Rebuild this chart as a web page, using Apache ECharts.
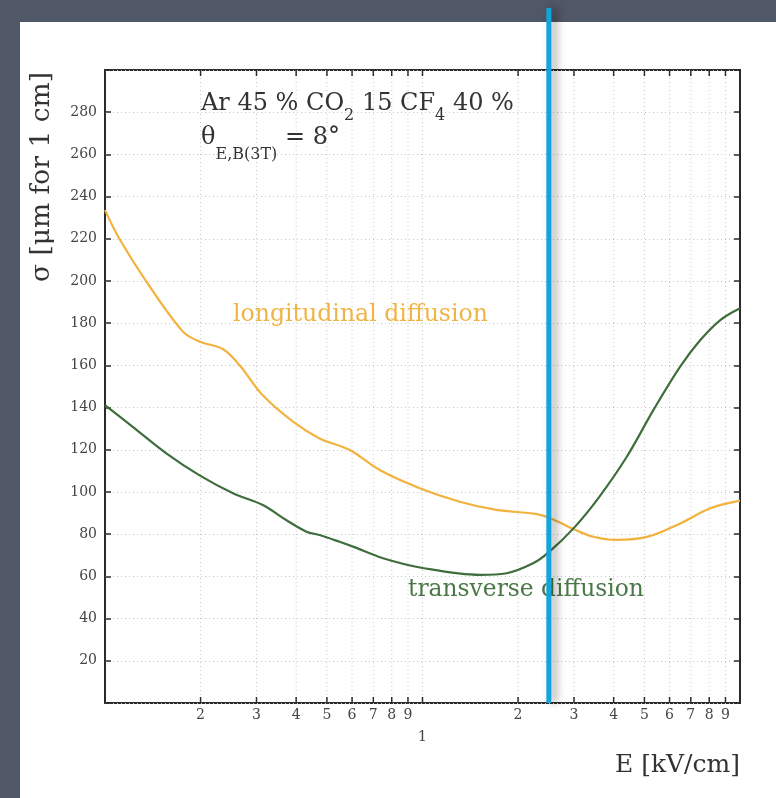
<!DOCTYPE html>
<html>
<head>
<meta charset="utf-8">
<script src="https://cdn.jsdelivr.net/npm/echarts@6/dist/echarts.min.js"></script>
<style>
  html, body { margin: 0; padding: 0; background: #505766; }
  #panel { position: absolute; left: 20px; top: 22px; right: 0; bottom: 0; background: #ffffff; }
  #chart { position: absolute; left: 0; top: 0; width: 776px; height: 798px; }
</style>
</head>
<body>
<div id="panel"></div>
<div id="chart"></div>
<script>
// Drift field E [kV/cm] and longitudinal diffusion sigma [um for 1 cm]
const E_long = [0.1, 0.111, 0.135, 0.176, 0.199, 0.235, 0.265, 0.314, 0.391, 0.474, 0.59, 0.733, 0.98, 1.31, 1.71, 2.29, 2.58, 3.0, 3.45, 4.09, 5.2, 6.5, 8.06, 10];
const sigma_long = [233.6, 220, 199.7, 176, 171.2, 167.8, 160.2, 145.8, 133.3, 125.4, 119.9, 110.4, 101.8, 95.4, 91.5, 89.5, 87, 82.3, 78.8, 77.3, 79.1, 85.2, 92.3, 95.9];

// Drift field E [kV/cm] and transverse diffusion sigma [um for 1 cm]
const E_trans = [0.1, 0.122, 0.156, 0.198, 0.253, 0.314, 0.372, 0.431, 0.474, 0.548, 0.604, 0.751, 1.0, 1.517, 1.84, 2.23, 2.5, 3.0, 3.6, 4.4, 5.34, 6.48, 7.5, 8.67, 10];
const sigma_trans = [141.2, 131, 118.3, 108, 99.4, 93.8, 86.7, 81.2, 79.6, 76.4, 74.1, 68.6, 64, 60.7, 61.5, 66.2, 71.5, 83, 97.6, 116.7, 138.9, 159.4, 172, 181.5, 187.1];

// Log-axis ticks and their labels
const xTickValues = [0.2, 0.3, 0.4, 0.5, 0.6, 0.7, 0.8, 0.9, 1, 2, 3, 4, 5, 6, 7, 8, 9];
const xTickLabels = ['2', '3', '4', '5', '6', '7', '8', '9', '1', '2', '3', '4', '5', '6', '7', '8', '9'];
const xMin = 0.1, xMax = 10;
const yMin = 0, yMax = 300, yStep = 20;

// Field value marked by the vertical cursor
const fieldMarker = [2.5];

const serif = '"DejaVu Serif", "Liberation Serif", serif';
const ink = '#333333';
const frame = '#2a2a2a';
const gridColor = '#c8c8c8';
const orange = '#f3b23e';
const green = '#3f6e3d';

const pairs = (xs, ys) => xs.map((x, i) => [x, ys[i]]);

const chart = echarts.init(document.getElementById('chart'), null, { renderer: 'canvas' });

const option = {
  backgroundColor: 'transparent',
  animation: false,
  grid: {
    left: 105, right: 36, top: 70, bottom: 95,
    show: true, borderColor: frame, borderWidth: 2, backgroundColor: 'transparent'
  },
  xAxis: {
    type: 'log', logBase: 10, min: xMin, max: xMax,
    axisLine: { show: false }, axisTick: { show: false },
    axisLabel: { show: false }, splitLine: { show: false }
  },
  yAxis: [
    {
      type: 'value', min: yMin, max: yMax, interval: yStep,
      axisLine: { show: false },
      axisTick: { inside: true, length: 6, lineStyle: { color: frame, width: 1.5 } },
      axisLabel: {
        formatter: v => (v === yMin || v === yMax) ? '' : String(v),
        fontFamily: serif, fontSize: 14, color: '#444', margin: 8
      },
      splitLine: { lineStyle: { type: [1, 3], color: gridColor, width: 1 } }
    },
    {
      type: 'value', position: 'right', min: yMin, max: yMax, interval: yStep,
      axisLine: { show: false },
      axisTick: { inside: true, length: 6, lineStyle: { color: frame, width: 1.5 } },
      axisLabel: { show: false }, splitLine: { show: false }
    }
  ],
  graphic: [
    {
      type: 'text', x: 201, y: 84, z: 20, silent: true,
      style: {
        text: '{m|Ar 45 % CO}{s|2}{m| 15 CF}{s|4}{m| 40 %}',
        verticalAlign: 'top', fill: ink,
        rich: {
          m: { fontFamily: serif, fontSize: 24, lineHeight: 40, verticalAlign: 'middle', fill: ink },
          s: { fontFamily: serif, fontSize: 16, lineHeight: 16, verticalAlign: 'bottom', fill: ink }
        }
      }
    },
    {
      type: 'text', x: 201, y: 113, z: 20, silent: true,
      style: {
        text: '{m|θ}{s|E,B(3T)}{m| = 8°}',
        verticalAlign: 'top', fill: ink,
        rich: {
          m: { fontFamily: serif, fontSize: 24, lineHeight: 50, verticalAlign: 'middle', fill: ink },
          s: { fontFamily: serif, fontSize: 16, lineHeight: 15, verticalAlign: 'bottom', fill: ink }
        }
      }
    },
    {
      type: 'text', x: 233, y: 315, z: 20, silent: true,
      style: { text: 'longitudinal diffusion', font: '23.6px ' + serif, fill: '#f0b445', align: 'left', verticalAlign: 'middle' }
    },
    {
      type: 'text', x: 408, y: 590, z: 20, silent: true,
      style: { text: 'transverse diffusion', font: '23.4px ' + serif, fill: '#4a7747', align: 'left', verticalAlign: 'middle' }
    },
    {
      type: 'text', x: 42, y: 72, rotation: Math.PI / 2, z: 20, silent: true,
      style: { text: 'σ [μm for 1 cm]', font: '26.5px ' + serif, fill: ink, align: 'right', verticalAlign: 'middle' }
    },
    {
      type: 'text', x: 740, y: 765, z: 20, silent: true,
      style: { text: 'E [kV/cm]', font: '25px ' + serif, fill: ink, align: 'right', verticalAlign: 'middle' }
    }
  ],
  series: [
    {
      // vertical grid lines, frame ticks and labels of the log axis
      type: 'custom', coordinateSystem: 'cartesian2d', clip: false, silent: true, z: 1,
      data: xTickValues.map(v => [v, yMin]),
      encode: { x: 0, y: 1 },
      renderItem: (params, api) => {
        const v = api.value(0);
        const lab = xTickLabels[params.dataIndex];
        const b = api.coord([v, yMin]);
        const t = api.coord([v, yMax]);
        const lg = Math.log10(v);
        const decade = Math.abs(lg - Math.round(lg)) < 1e-9;
        return {
          type: 'group',
          children: [
            { type: 'line', shape: { x1: b[0], y1: b[1], x2: t[0], y2: t[1] },
              style: { stroke: gridColor, lineWidth: 1, lineDash: [1, 3] } },
            { type: 'line', shape: { x1: b[0], y1: b[1], x2: b[0], y2: b[1] - 6 },
              style: { stroke: frame, lineWidth: 1.5 } },
            { type: 'line', shape: { x1: t[0], y1: t[1], x2: t[0], y2: t[1] + 6 },
              style: { stroke: frame, lineWidth: 1.5 } },
            { type: 'text', style: {
                x: b[0], y: b[1] + (decade ? 34 : 12), text: lab,
                align: 'center', verticalAlign: 'middle',
                fontFamily: serif, fontSize: 14, fill: '#444' } }
          ]
        };
      }
    },
    {
      name: 'longitudinal diffusion', type: 'line', data: pairs(E_long, sigma_long),
      showSymbol: false, smooth: 0.35, z: 3,
      lineStyle: { color: orange, width: 2.2 }
    },
    {
      name: 'transverse diffusion', type: 'line', data: pairs(E_trans, sigma_trans),
      showSymbol: false, smooth: 0.35, z: 3,
      lineStyle: { color: green, width: 2.2 }
    },
    {
      // vertical cursor at the marked field value
      type: 'custom', coordinateSystem: 'cartesian2d', clip: false, silent: true, z: 30,
      data: fieldMarker.map(v => [v, yMin]),
      encode: { x: 0, y: 1 },
      renderItem: (params, api) => {
        const b = api.coord([api.value(0), yMin]);
        return {
          type: 'line',
          shape: { x1: b[0], y1: b[1], x2: b[0], y2: 8 },
          style: { stroke: '#10a5dc', lineWidth: 5, shadowColor: 'rgba(0,0,0,0.4)', shadowBlur: 8, shadowOffsetX: 5 }
        };
      }
    }
  ]
};

chart.setOption(option);
</script>
</body>
</html>
